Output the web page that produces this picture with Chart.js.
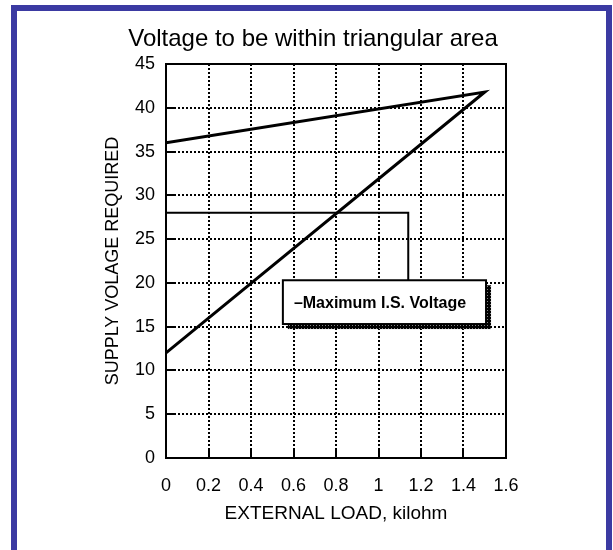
<!DOCTYPE html>
<html>
<head>
<meta charset="utf-8">
<script src="https://cdn.jsdelivr.net/npm/chart.js@4"></script>
<style>
  html, body { margin: 0; padding: 0; background: #fff; overflow: hidden; }
  #wrap { position: relative; width: 613px; height: 550px; }
  #chart { position: absolute; left: 0; top: 0; }
  #frame {
    position: absolute; left: 11px; top: 5px; width: 589px; height: 600px;
    border: 6px solid #3b3aa2; pointer-events: none;
  }
</style>
</head>
<body>
<div id="wrap">
  <canvas id="chart" width="613" height="550"></canvas>
  <div id="frame"></div>
</div>
<script>
// values
const loadKohm = [0, 1.5, 0];                 // triangle: top edge, apex, bottom edge
const supplyVolts = [36, 41.8, 12];
const maxLoad = [0, 1.14, 1.14];              // Maximum I.S. Voltage line
const maxVolts = [28, 28, 20.3];
const xTicks = [0, 0.2, 0.4, 0.6, 0.8, 1, 1.2, 1.4, 1.6];
const yTicks = [0, 5, 10, 15, 20, 25, 30, 35, 40, 45];

const chartTitle = 'Voltage to be within triangular area';
const legendText = '\u2013Maximum I.S. Voltage';
const FONT = '"Liberation Sans", Arial, sans-serif';

// legend box corners in data units (load, volts)
const legendBox = { x0: 0.55, x1: 1.506, y0: 20.3, y1: 15.3 };

function toPoints(xs, ys) {
  return xs.map((x, i) => ({ x: x, y: ys[i] }));
}

// title, plot frame, inside tick stubs and the boxed legend
const extras = {
  id: 'extras',
  beforeDraw(chart) {
    const ctx = chart.ctx;
    ctx.save();
    ctx.fillStyle = '#fff';
    ctx.fillRect(0, 0, chart.width, chart.height);
    ctx.restore();
  },
  afterDatasetsDraw(chart) {
    const { ctx, chartArea: a, scales } = chart;
    const sx = scales.x, sy = scales.y;
    ctx.save();
    // title
    ctx.fillStyle = '#000';
    ctx.font = '24px ' + FONT;
    ctx.textAlign = 'center';
    ctx.textBaseline = 'alphabetic';
    ctx.fillText(chartTitle, 313, 46);

    // solid frame round plot
    ctx.strokeStyle = '#000';
    ctx.lineWidth = 2;
    ctx.strokeRect(a.left, a.top, a.right - a.left, a.bottom - a.top);

    // short solid ticks inside the axes
    ctx.lineWidth = 2;
    ctx.beginPath();
    xTicks.slice(1, -1).forEach(v => {
      const px = Math.round(sx.getPixelForValue(v));
      ctx.moveTo(px, a.bottom);
      ctx.lineTo(px, a.bottom - 10);
    });
    yTicks.slice(1, -1).forEach(v => {
      const py = Math.round(sy.getPixelForValue(v));
      ctx.moveTo(a.left, py);
      ctx.lineTo(a.left + 9, py);
    });
    ctx.stroke();

    // legend box with textured shadow
    const bx0 = sx.getPixelForValue(legendBox.x0);
    const bx1 = sx.getPixelForValue(legendBox.x1);
    const by0 = sy.getPixelForValue(legendBox.y0);
    const by1 = sy.getPixelForValue(legendBox.y1);
    const pc = document.createElement('canvas');
    pc.width = 3; pc.height = 3;
    const pctx = pc.getContext('2d');
    pctx.fillStyle = '#000';
    pctx.fillRect(0, 0, 3, 3);
    pctx.fillStyle = '#888';
    pctx.fillRect(1, 1, 1, 1);
    ctx.fillStyle = ctx.createPattern(pc, 'repeat');
    ctx.fillRect(bx0 + 5, by0 + 5, bx1 - bx0, by1 - by0);
    ctx.fillStyle = '#fff';
    ctx.fillRect(bx0, by0, bx1 - bx0, by1 - by0);
    ctx.lineWidth = 2;
    ctx.strokeStyle = '#000';
    ctx.strokeRect(bx0, by0, bx1 - bx0, by1 - by0);
    ctx.fillStyle = '#000';
    ctx.font = 'bold 16px ' + FONT;
    ctx.textAlign = 'left';
    ctx.textBaseline = 'middle';
    ctx.fillText(legendText, bx0 + 11, (by0 + by1) / 2 + 1);
    ctx.restore();
  }
};

const ctx = document.getElementById('chart').getContext('2d');
const chart = new Chart(ctx, {
  type: 'scatter',
  data: {
    datasets: [
      {
        label: 'Triangular area',
        data: toPoints(loadKohm, supplyVolts),
        showLine: true,
        borderColor: '#000',
        borderWidth: 3,
        pointRadius: 0,
        tension: 0
      },
      {
        label: 'Maximum I.S. Voltage',
        data: toPoints(maxLoad, maxVolts),
        showLine: true,
        borderColor: '#000',
        borderWidth: 2,
        pointRadius: 0,
        tension: 0
      }
    ]
  },
  options: {
    responsive: false,
    animation: false,
    layout: { padding: { left: 0, top: 64, right: 107, bottom: 0 } },
    plugins: {
      legend: { display: false },
      title: { display: false },
      tooltip: { enabled: false }
    },
    scales: {
      x: {
        type: 'linear',
        min: 0,
        max: 1.6,
        afterBuildTicks: s => { s.ticks = xTicks.map(v => ({ value: v })); },
        afterFit: s => { s.height = 92; },
        grid: {
          color: '#000',
          lineWidth: 2,
          drawTicks: false
        },
        border: { display: false, dash: [2, 2] },
        ticks: {
          color: '#000',
          padding: 17,
          maxRotation: 0,
          autoSkip: false,
          font: { family: FONT, size: 18 },
          callback: v => String(v)
        },
        title: {
          display: true,
          text: 'EXTERNAL LOAD, kilohm',
          color: '#000',
          font: { family: FONT, size: 19 },
          padding: { top: 0, bottom: 25 }
        }
      },
      y: {
        type: 'linear',
        min: 0,
        max: 45,
        afterBuildTicks: s => { s.ticks = yTicks.map(v => ({ value: v })); },
        afterFit: s => { s.width = 166; },
        grid: {
          color: '#000',
          lineWidth: 2,
          drawTicks: false
        },
        border: { display: false, dash: [2, 2] },
        ticks: {
          color: '#000',
          padding: 11,
          autoSkip: false,
          font: { family: FONT, size: 18 }
        },
        title: {
          display: true,
          text: 'SUPPLY VOLAGE REQUIRED',
          color: '#000',
          font: { family: FONT, size: 18 },
          padding: { top: 102, bottom: 0 }
        }
      }
    }
  },
  plugins: [extras]
});
</script>
</body>
</html>
